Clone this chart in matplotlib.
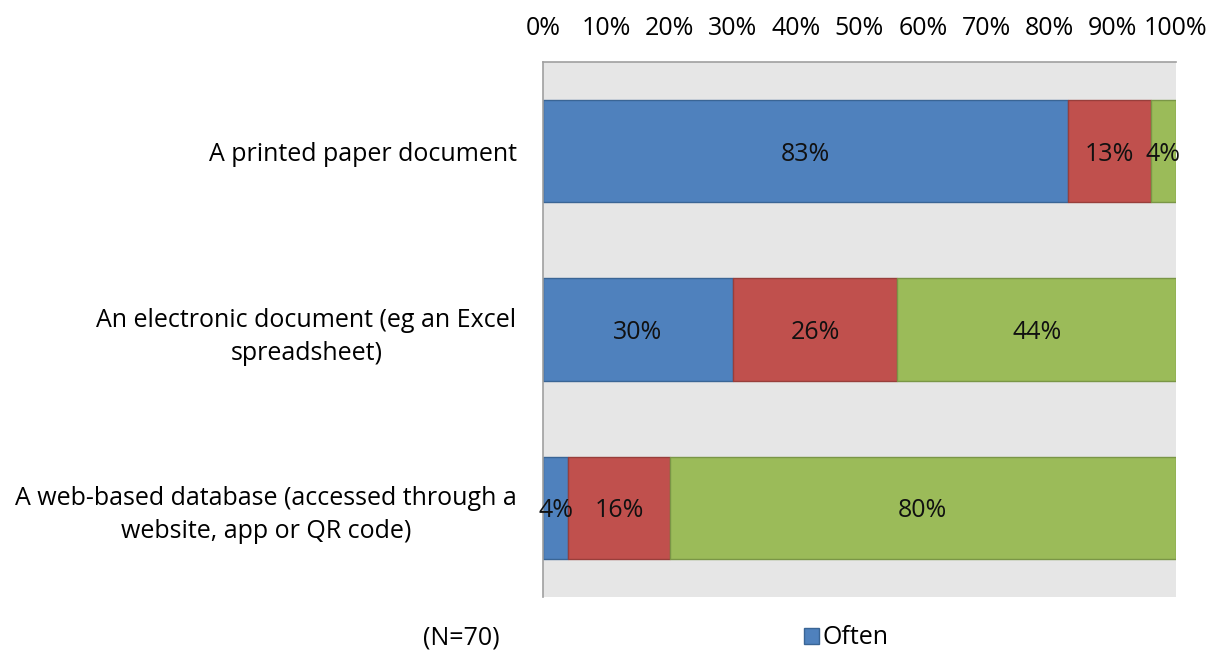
import matplotlib
matplotlib.use("Agg")
import matplotlib.pyplot as plt
import numpy as np

categories = [
    "A printed paper document",
    "An electronic document (eg an Excel\nspreadsheet)",
    "A web-based database (accessed through a\nwebsite, app or QR code)",
]
often = [83, 30, 4]
sometimes = [13, 26, 16]
never = [4, 44, 80]
series_names = ["Often", "Sometimes", "Never"]
tick_values = [0, 10, 20, 30, 40, 50, 60, 70, 80, 90, 100]
note = "(N=70)"

colors = ["#4F81BD", "#C0504D", "#9BBB59"]
edges = ["#3A6595", "#983E3B", "#7A9646"]

plt.rcParams['font.family'] = ['Open Sans', 'DejaVu Sans']
FS = 18

fig = plt.figure(figsize=(12.16, 6.52), dpi=100)
ax = fig.add_axes([543/1216, 1-597/652, (1176-543)/1216, (597-62)/652])
ax.set_facecolor("#E6E6E6")

y = np.arange(len(categories))
left = np.zeros(len(categories))
handles = []
for vals, c, ec, name in zip([often, sometimes, never], colors, edges, series_names):
    vals = np.array(vals, dtype=float)
    bars = ax.barh(y, vals, left=left, height=0.573, color=c, edgecolor=ec, linewidth=1, label=name)
    handles.append(bars)
    for yi, l, v in zip(y, left, vals):
        ax.text(l + v/2, yi, f"{int(v)}%", ha="center", va="center_baseline", fontsize=FS, color="#111111")
    left += vals

ax.set_xlim(0, 100)
ax.set_ylim(2.5, -0.5)
ax.xaxis.tick_top()
ax.set_xticks(tick_values)
ax.set_xticklabels([f"{t}%" for t in tick_values], fontsize=FS)
ax.tick_params(axis='x', length=0, pad=15)
ax.set_yticks(y)
ax.set_yticklabels(categories, fontsize=FS, multialignment='center', linespacing=1.45)
ax.tick_params(axis='y', length=0, pad=19)
for s in ["right", "bottom"]:
    ax.spines[s].set_visible(False)
for s in ["left", "top"]:
    ax.spines[s].set_color("#A0A0A0")
    ax.spines[s].set_linewidth(1.2)

fig.text(461/1216, 1-638/652, note, ha="center", va="center", fontsize=FS)
fig.legend(handles=[handles[0]], labels=[series_names[0]], loc="center",
           bbox_to_anchor=(846/1216, 1-638/652), frameon=False, fontsize=FS,
           handlelength=0.6, handleheight=0.6, handletextpad=0.15, borderpad=0)

fig.savefig("out.png", dpi=100)
